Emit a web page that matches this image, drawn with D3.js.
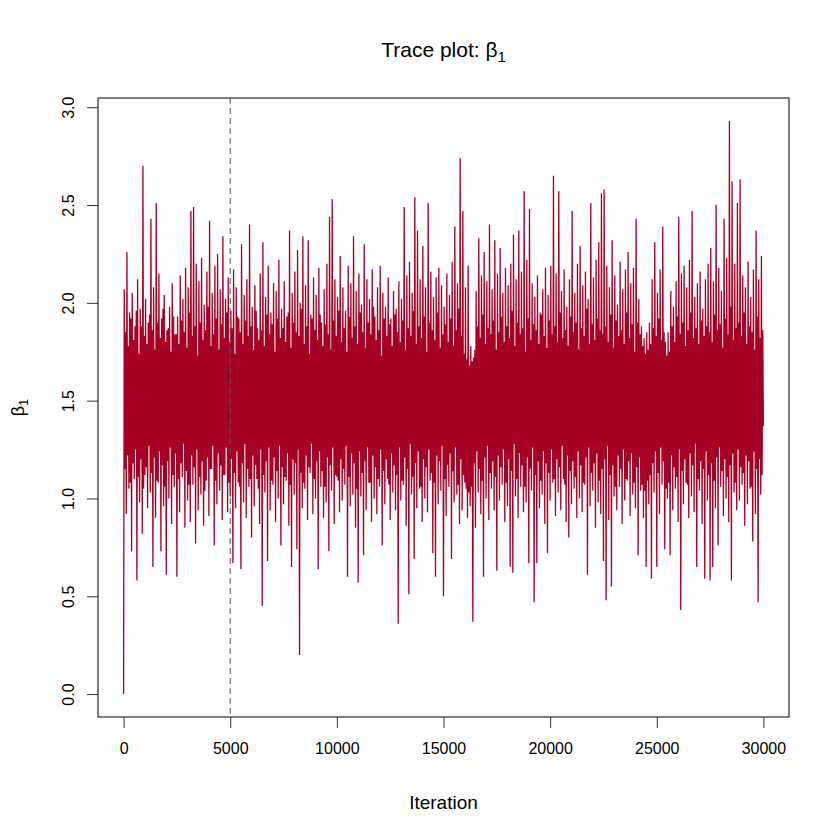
<!DOCTYPE html>
<meta charset="utf-8">
<style>
  body { margin: 0; background: white; }
  text { font-family: "Liberation Sans", Arial, Helvetica, sans-serif; fill: black; }
  .trace-line { fill: none; stroke: #A50026; stroke-width: 1.3px; }
  .burn-line { stroke: #555; stroke-width: 1px; stroke-dasharray: 6,4; }
</style>
<body>
<div id="trace_chart"></div>

<script src="https://d3js.org/d3.v7.min.js"></script>
<script>
  // MCMC draws: per block of 125 iterations the outer
  // swing (lows/highs) and an inner swing (lows2/highs2)
  const binSize = 125;
  const burnIn = 5000;
  const lastValue = 1.37;

  const highs = [
    2.07, 2.26, 1.95, 2.05, 1.88, 2.12, 1.97, 2.70, 2.02, 1.90, 2.43, 2.08, 2.51, 2.15, 1.92, 2.04, 1.86, 1.98, 2.10, 1.84,
    1.93, 2.14, 2.02, 2.18, 2.08, 2.47, 2.49, 2.20, 2.11, 2.23, 1.99, 2.16, 2.42, 2.05, 2.19, 2.25, 2.07, 2.34, 2.02, 2.13,
    1.96, 2.17, 2.08, 1.92, 2.30, 2.04, 2.12, 2.40, 1.98, 2.09, 1.87, 2.15, 2.31, 2.03, 2.19, 1.95, 2.10, 2.06, 2.22, 1.97,
    2.11, 1.93, 2.37, 2.05, 2.16, 2.27, 2.00, 2.34, 2.09, 2.32, 1.94, 2.13, 2.04, 2.18, 1.90, 2.07, 2.20, 2.44, 2.53, 2.12,
    2.03, 2.24, 2.08, 1.96, 2.19, 2.10, 2.34, 2.06, 2.15, 1.99, 2.30, 2.12, 2.02, 2.17, 1.93, 2.08, 2.19, 2.05, 1.98, 2.13,
    1.92, 2.06, 1.97, 2.11, 2.02, 2.49, 2.14, 2.21, 2.05, 2.54, 2.37, 2.12, 2.29, 2.08, 2.51, 2.16, 2.03, 2.13, 2.18, 2.09,
    1.98, 2.15, 2.04, 2.21, 2.39, 2.10, 2.74, 2.47, 2.08, 2.19, 1.78, 1.72, 2.06, 2.33, 2.14, 2.26, 2.11, 2.40, 2.07, 2.32,
    2.15, 2.28, 2.05, 2.18, 2.09, 2.20, 2.35, 2.12, 2.37, 2.16, 2.57, 2.22, 2.48, 2.10, 2.03, 2.14, 1.95, 2.07, 2.18, 2.04,
    2.19, 2.65, 2.15, 2.57, 2.06, 2.17, 1.98, 2.12, 2.47, 2.05, 2.20, 2.29, 2.09, 2.16, 2.02, 2.51, 2.13, 2.22, 2.31, 2.56,
    2.58, 2.19, 2.08, 2.32, 2.14, 1.99, 2.21, 2.07, 2.17, 2.26, 2.10, 2.18, 2.43, 2.02, 1.88, 1.82, 1.85, 1.90, 2.12, 2.31,
    2.05, 2.17, 2.39, 1.80, 1.85, 2.06, 1.98, 2.11, 2.44, 2.15, 2.19, 2.08, 2.22, 2.47, 2.03, 2.10, 2.16, 1.97, 2.12, 2.20,
    2.28, 2.11, 2.50, 2.18, 2.06, 2.43, 2.23, 2.93, 2.62, 2.20, 2.51, 2.63, 2.14, 2.08, 2.21, 2.03, 2.17, 2.37, 2.12, 2.24
  ];

  const lows = [
    0.00, 0.92, 1.05, 0.73, 1.10, 0.58, 0.98, 0.82, 1.12, 0.95, 1.03, 0.65, 0.90, 1.08, 0.73, 0.96, 0.61, 1.00, 0.87, 1.06,
    0.60, 0.93, 1.11, 0.85, 0.99, 0.88, 1.07, 0.77, 0.94, 1.02, 0.86, 1.09, 0.91, 1.15, 0.76, 0.97, 1.04, 0.89, 1.12, 0.93,
    1.01, 0.67, 0.95, 1.08, 0.64, 0.98, 0.90, 1.06, 0.80, 0.96, 1.10, 0.87, 0.45, 1.03, 0.68, 0.94, 1.07, 0.88, 1.00, 0.76,
    0.97, 1.09, 0.86, 0.65, 1.02, 0.74, 0.20, 0.95, 1.05, 0.89, 1.13, 0.92, 1.00, 0.64, 1.06, 0.90, 0.98, 0.73, 1.04, 0.87,
    1.11, 0.93, 0.99, 1.07, 0.60, 0.96, 1.02, 0.85, 0.57, 1.01, 0.71, 0.94, 1.08, 0.88, 1.00, 0.92, 1.06, 0.76, 0.97, 1.10,
    0.89, 1.03, 0.94, 0.36, 0.99, 1.07, 0.86, 0.51, 1.02, 0.69, 0.95, 1.05, 0.88, 1.00, 0.93, 1.09, 0.72, 0.60, 0.97, 1.04,
    0.50, 0.91, 1.06, 0.69, 0.98, 1.02, 0.87, 0.94, 1.08, 0.90, 0.96, 0.37, 0.85, 1.03, 0.92, 0.60, 1.00, 0.89, 1.05, 0.94,
    0.63, 0.99, 1.07, 0.88, 0.96, 0.65, 0.62, 1.01, 0.90, 1.06, 0.93, 0.98, 0.67, 1.04, 0.47, 0.67, 0.95, 1.02, 0.87, 0.72,
    0.99, 1.08, 0.91, 1.03, 0.94, 1.10, 0.88, 0.80, 0.97, 1.05, 0.90, 1.00, 0.93, 1.07, 0.61, 0.96, 1.04, 0.85, 0.98, 0.92,
    0.68, 0.48, 0.89, 0.55, 1.01, 0.94, 1.06, 0.87, 0.99, 1.09, 0.91, 1.02, 0.95, 0.71, 1.04, 0.90, 0.65, 0.97, 0.59, 1.03,
    0.65, 0.92, 1.07, 0.74, 1.00, 0.71, 0.94, 1.05, 0.88, 0.43, 0.97, 1.08, 0.90, 1.01, 0.93, 0.65, 1.04, 0.87, 0.59, 0.99,
    0.58, 0.65, 0.95, 0.76, 1.06, 0.91, 1.00, 0.88, 0.58, 1.03, 0.94, 0.99, 1.07, 0.86, 0.97, 1.05, 0.78, 0.92, 0.47, 1.02
  ];

  const highs2 = [
    1.85, 1.78, 1.92, 1.81, 1.96, 1.74, 1.88, 1.83, 1.79, 1.94, 1.86, 1.76, 1.90, 1.82, 1.97, 1.80, 1.87, 1.75, 1.93, 1.84,
    1.79, 1.91, 1.85, 1.77, 1.95, 1.83, 1.88, 1.73, 1.90, 1.81, 1.86, 1.98, 1.78, 1.84, 1.92, 1.76, 1.89, 1.82, 1.95, 1.80,
    1.87, 1.74, 1.93, 1.85, 1.79, 1.91, 1.83, 1.88, 1.76, 1.96, 1.81, 1.86, 1.78, 1.94, 1.84, 1.89, 1.75, 1.92, 1.82, 1.87,
    1.80, 1.95, 1.77, 1.90, 1.85, 1.83, 1.97, 1.79, 1.88, 1.74, 1.92, 1.86, 1.81, 1.94, 1.78, 1.89, 1.84, 1.76, 1.91, 1.83,
    1.96, 1.80, 1.87, 1.75, 1.93, 1.82, 1.88, 1.79, 1.95, 1.85, 1.77, 1.90, 1.84, 1.98, 1.81, 1.86, 1.73, 1.92, 1.83, 1.89,
    1.78, 1.94, 1.85, 1.80, 1.91, 1.76, 1.87, 1.83, 1.96, 1.79, 1.88, 1.82, 1.93, 1.75, 1.90, 1.86, 1.81, 1.95, 1.77, 1.84,
    1.89, 1.80, 1.92, 1.78, 1.86, 1.97, 1.83, 1.74, 1.71, 1.68, 1.70, 1.76, 1.88, 1.82, 1.94, 1.79, 1.87, 1.84, 1.91, 1.76,
    1.85, 1.93, 1.80, 1.88, 1.82, 1.96, 1.78, 1.90, 1.84, 1.87, 1.75, 1.92, 1.81, 1.89, 1.86, 1.79, 1.94, 1.83, 1.77, 1.91,
    1.84, 1.88, 1.80, 1.95, 1.82, 1.86, 1.78, 1.93, 1.85, 1.90, 1.76, 1.87, 1.83, 1.97, 1.79, 1.89, 1.81, 1.92, 1.86, 1.84,
    1.88, 1.80, 1.94, 1.77, 1.91, 1.83, 1.86, 1.79, 1.95, 1.82, 1.89, 1.75, 1.90, 1.84, 1.78, 1.74, 1.76, 1.79, 1.87, 1.83,
    1.92, 1.81, 1.85, 1.73, 1.75, 1.88, 1.80, 1.93, 1.84, 1.90, 1.78, 1.86, 1.95, 1.82, 1.87, 1.79, 1.91, 1.83, 1.88, 1.85,
    1.80, 1.94, 1.86, 1.89, 1.77, 1.92, 1.84, 1.98, 1.81, 1.87, 1.90, 1.83, 1.95, 1.79, 1.88, 1.85, 1.76, 1.93, 1.82, 1.86
  ];

  const lows2 = [
    1.15, 1.22, 1.08, 1.18, 1.25, 1.11, 1.20, 1.05, 1.16, 1.27, 1.13, 1.21, 1.09, 1.24, 1.17, 1.06, 1.19, 1.26, 1.12, 1.23,
    1.10, 1.18, 1.28, 1.14, 1.07, 1.22, 1.16, 1.25, 1.11, 1.19, 1.04, 1.21, 1.15, 1.27, 1.09, 1.23, 1.17, 1.12, 1.26, 1.08,
    1.20, 1.13, 1.24, 1.06, 1.18, 1.28, 1.15, 1.10, 1.22, 1.17, 1.05, 1.25, 1.12, 1.19, 1.26, 1.09, 1.21, 1.14, 1.27, 1.16,
    1.11, 1.23, 1.07, 1.20, 1.18, 1.25, 1.13, 1.08, 1.22, 1.16, 1.28, 1.10, 1.19, 1.24, 1.14, 1.06, 1.21, 1.17, 1.26, 1.12,
    1.09, 1.20, 1.15, 1.27, 1.11, 1.23, 1.18, 1.05, 1.24, 1.13, 1.19, 1.26, 1.08, 1.22, 1.16, 1.10, 1.25, 1.14, 1.20, 1.07,
    1.23, 1.17, 1.12, 1.26, 1.09, 1.21, 1.15, 1.28, 1.11, 1.18, 1.24, 1.06, 1.20, 1.16, 1.25, 1.13, 1.08, 1.22, 1.19, 1.27,
    1.10, 1.17, 1.23, 1.14, 1.26, 1.07, 1.20, 1.12, 1.05, 1.03, 1.06, 1.18, 1.24, 1.15, 1.09, 1.21, 1.27, 1.13, 1.19, 1.11,
    1.22, 1.16, 1.25, 1.08, 1.20, 1.14, 1.28, 1.10, 1.23, 1.17, 1.06, 1.21, 1.15, 1.26, 1.12, 1.19, 1.09, 1.24, 1.18, 1.13,
    1.25, 1.10, 1.20, 1.16, 1.27, 1.07, 1.22, 1.14, 1.19, 1.11, 1.24, 1.17, 1.08, 1.21, 1.26, 1.13, 1.18, 1.23, 1.09, 1.15,
    1.20, 1.27, 1.12, 1.17, 1.06, 1.22, 1.15, 1.25, 1.10, 1.19, 1.23, 1.08, 1.16, 1.21, 1.07, 1.04, 1.09, 1.12, 1.18, 1.24,
    1.13, 1.26, 1.19, 1.05, 1.08, 1.22, 1.16, 1.11, 1.25, 1.14, 1.20, 1.07, 1.23, 1.17, 1.28, 1.10, 1.19, 1.15, 1.24, 1.12,
    1.18, 1.09, 1.21, 1.26, 1.14, 1.20, 1.11, 1.17, 1.23, 1.08, 1.25, 1.16, 1.13, 1.22, 1.19, 1.06, 1.24, 1.15, 1.20, 1.12
  ];

  const xTicks = [0, 5000, 10000, 15000, 20000, 25000, 30000];
  const yTicks = [0.0, 0.5, 1.0, 1.5, 2.0, 2.5, 3.0];

  const width = 840;
  const height = 840;
  const margin = {top: 98, right: 51, bottom: 123, left: 98};

  // walk through each block: low, high, inner low, inner high
  const trace = [];
  highs.forEach(function(h, i) {
    const start = i * binSize;
    trace.push([start, lows[i]]);
    trace.push([start + binSize / 4, h]);
    trace.push([start + binSize / 2, lows2[i]]);
    trace.push([start + binSize * 3 / 4, highs2[i]]);
  });
  trace.push([30000, lastValue]);

  // R pads each axis range by 4%
  const xExt = d3.extent(trace, d => d[0]);
  const yExt = d3.extent(trace, d => d[1]);
  const xPad = (xExt[1] - xExt[0]) * 0.04;
  const yPad = (yExt[1] - yExt[0]) * 0.04;

  const x = d3.scaleLinear()
    .domain([xExt[0] - xPad, xExt[1] + xPad])
    .range([margin.left, width - margin.right]);

  const y = d3.scaleLinear()
    .domain([yExt[0] - yPad, yExt[1] + yPad])
    .range([height - margin.bottom, margin.top]);

  const svg = d3.select("#trace_chart").append("svg")
    .attr("width", width)
    .attr("height", height);

  // the trace itself
  svg.append("path")
    .datum(trace)
    .attr("class", "trace-line")
    .attr("d", d3.line().x(d => x(d[0])).y(d => y(d[1])));

  // burn-in marker
  svg.append("line")
    .attr("class", "burn-line")
    .attr("x1", x(burnIn)).attr("x2", x(burnIn))
    .attr("y1", margin.top).attr("y2", height - margin.bottom);

  // box
  svg.append("rect")
    .attr("x", margin.left)
    .attr("y", margin.top)
    .attr("width", width - margin.left - margin.right)
    .attr("height", height - margin.top - margin.bottom)
    .attr("fill", "none")
    .attr("stroke", "black")
    .attr("stroke-width", 1);

  // x axis
  const xAxis = svg.append("g")
    .attr("transform", `translate(0, ${height - margin.bottom})`)
    .call(d3.axisBottom(x).tickValues(xTicks).tickFormat(d3.format("d")).tickSize(11).tickPadding(15));
  xAxis.select(".domain").remove();
  xAxis.selectAll("line").attr("stroke", "#333");
  xAxis.selectAll("text").style("font-size", "16px").attr("fill", "black");

  // y axis with vertical labels
  const yAxis = svg.append("g")
    .attr("transform", `translate(${margin.left}, 0)`)
    .call(d3.axisLeft(y).tickValues(yTicks).tickFormat(d3.format(".1f")).tickSize(11));
  yAxis.select(".domain").remove();
  yAxis.selectAll("line").attr("stroke", "#333");
  yAxis.selectAll("text")
    .attr("transform", "rotate(-90)")
    .attr("x", 0)
    .attr("y", -30)
    .attr("dy", "0.35em")
    .style("text-anchor", "middle")
    .style("font-size", "16px")
    .attr("fill", "black");

  // titles
  const title = svg.append("text")
    .attr("x", (margin.left + width - margin.right) / 2)
    .attr("y", 57)
    .attr("text-anchor", "middle")
    .style("font-size", "21px");
  title.append("tspan").text("Trace plot: β");
  title.append("tspan").attr("dy", 5).style("font-size", "15px").text("1");

  svg.append("text")
    .attr("x", (margin.left + width - margin.right) / 2)
    .attr("y", 809)
    .attr("text-anchor", "middle")
    .style("font-size", "19px")
    .text("Iteration");

  const ylab = svg.append("text")
    .attr("transform", `translate(24, ${(margin.top + height - margin.bottom) / 2}) rotate(-90)`)
    .attr("text-anchor", "middle")
    .style("font-size", "18px");
  ylab.append("tspan").text("β");
  ylab.append("tspan").attr("dy", 4).style("font-size", "13px").text("1");
</script>
</body>
